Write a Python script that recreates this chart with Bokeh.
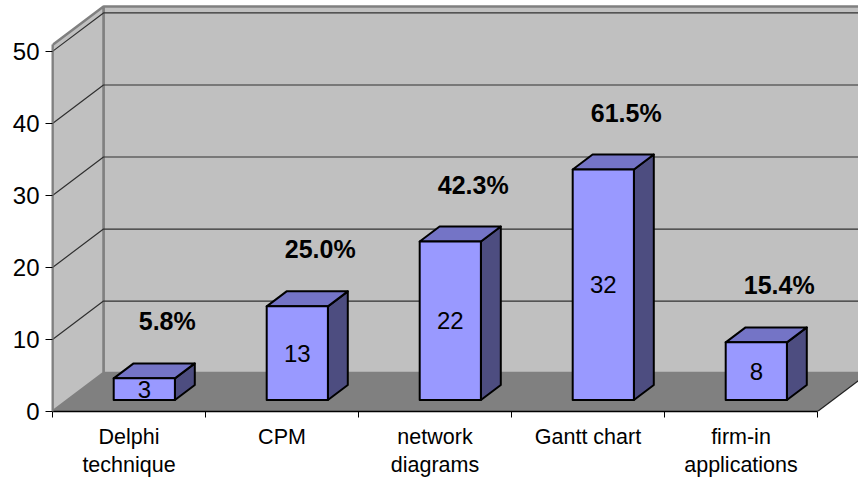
from bokeh.plotting import figure
from bokeh.models import Range1d, FixedTicker, LinearAxis
from bokeh.core.properties import value
from bokeh.embed import file_html
from bokeh.resources import INLINE

# ---- data ----
categories = ["Delphi\ntechnique", "CPM", "network\ndiagrams", "Gantt chart", "firm-in\napplications"]
counts = [3, 13, 22, 32, 8]
percent_labels = ["5.8%", "25.0%", "42.3%", "61.5%", "15.4%"]
y_ticks = [0, 10, 20, 30, 40, 50]

# ---- 3D geometry (style) ----
PX_PER_UNIT = 7.22
DX = 51 / 153.0          # depth shift in category units
DY = 38.5 / PX_PER_UNIT  # depth shift in value units
F0, F1 = 0.30, 0.69      # bar depth (front/back fraction)
HALF = 0.2               # half bar width in category units
WALL_TOP = 50.9
FONT = "Liberation Sans"

def proj(c, v, f):
    return c + f * DX, v + f * DY

p = figure(width=858, height=480, output_backend="svg", toolbar_location=None,
           x_range=Range1d(0, 806 / 153.0), y_range=Range1d(0, 412 / PX_PER_UNIT),
           min_border_left=52, min_border_right=0, min_border_top=0, min_border_bottom=68)
p.xgrid.visible = False
p.ygrid.visible = False
p.outline_line_color = None
p.background_fill_color = "white"
p.border_fill_color = "white"

# walls and floor
n = len(categories)
far = n + 1.0
bw = [proj(0, 0, 1), proj(far, 0, 1), proj(far, WALL_TOP, 1), proj(0, WALL_TOP, 1)]
lw = [proj(0, 0, 0), proj(0, 0, 1), proj(0, WALL_TOP, 1), proj(0, WALL_TOP, 0)]
fl = [proj(0, 0, 0), proj(n, 0, 0), proj(n, 0, 1), proj(0, 0, 1)]
p.patch([q[0] for q in bw], [q[1] for q in bw], fill_color="#C0C0C0", line_color="#808080", line_width=2.5)
p.patch([q[0] for q in lw], [q[1] for q in lw], fill_color="#C0C0C0", line_color="#808080", line_width=2.5)
p.patch([q[0] for q in fl], [q[1] for q in fl], fill_color="#808080", line_color=None)
e0, e1 = proj(n, 0, 0), proj(n, 0, 1)
p.line([e0[0], e1[0]], [e0[1], e1[1]], line_color="#202020", line_width=1.2)

# gridlines on walls
gxs, gys = [], []
for t in y_ticks[1:]:
    a, b, c = proj(0, t, 0), proj(0, t, 1), proj(far, t, 1)
    gxs.append([a[0], b[0], c[0]])
    gys.append([a[1], b[1], c[1]])
p.multi_line(gxs, gys, line_color="#303030", line_width=1.2)

# bars
fx, fy, tx, ty, sx, sy = [], [], [], [], [], []
for i, v in enumerate(counts):
    c0, c1 = i + 0.5 - HALF, i + 0.5 + HALF
    A = proj(c0, 0, F0); B = proj(c1, 0, F0); C = proj(c1, v, F0); D = proj(c0, v, F0)
    E = proj(c1, 0, F1); G = proj(c1, v, F1); H = proj(c0, v, F1)
    fx.append([A[0], B[0], C[0], D[0]]); fy.append([A[1], B[1], C[1], D[1]])
    tx.append([D[0], C[0], G[0], H[0]]); ty.append([D[1], C[1], G[1], H[1]])
    sx.append([B[0], E[0], G[0], C[0]]); sy.append([B[1], E[1], G[1], C[1]])
p.patches(sx, sy, fill_color="#4D4D80", line_color="black", line_width=2, line_join="round")
p.patches(tx, ty, fill_color="#7474C6", line_color="black", line_width=2, line_join="round")
p.patches(fx, fy, fill_color="#9999FF", line_color="black", line_width=2, line_join="round")

# value labels on the bar fronts
vx = [proj(i + 0.5, v / 2.0, F0)[0] for i, v in enumerate(counts)]
vy = [proj(i + 0.5, v / 2.0, F0)[1] for i, v in enumerate(counts)]
p.text(x=vx, y=vy, text=[str(v) for v in counts], text_font=value(FONT),
       text_font_size="24px", text_align="center", text_baseline="middle", text_color="black")

# percentage labels above the bars
px_ = [i + 0.5 + 0.25 for i in range(n)]
py_ = [v + 9.5 for v in counts]
p.text(x=px_, y=py_, text=percent_labels, text_font=value(FONT), text_font_style="bold",
       text_font_size="25px", text_align="center", text_baseline="middle", text_color="black")

# axes
p.yaxis.ticker = FixedTicker(ticks=y_ticks)
p.yaxis.bounds = (0, WALL_TOP)
p.yaxis.axis_line_color = "#808080"
p.yaxis.axis_line_width = 2
p.yaxis.major_tick_out = 7
p.yaxis.major_tick_in = 0
p.yaxis.major_tick_line_color = "black"
p.yaxis.minor_tick_line_color = None
p.yaxis.major_label_standoff = 6
p.yaxis.major_label_text_font = FONT
p.yaxis.major_label_text_font_size = "24px"
p.yaxis.major_label_text_color = "black"

# x axis: tick marks at category boundaries, names centred between them
tick_pos = [0, 1, 2, 3, 4, 5]
p.xaxis.ticker = FixedTicker(ticks=tick_pos, minor_ticks=[i + 0.5 for i in range(n)])
p.xaxis.bounds = (0, n)
p.xaxis.axis_line_color = "black"
p.xaxis.axis_line_width = 1.5
p.xaxis.major_tick_out = 6
p.xaxis.major_tick_in = 0
p.xaxis.major_tick_line_color = "black"
p.xaxis.minor_tick_line_color = None
p.xaxis.major_label_text_font_size = "1px"
p.xaxis.major_label_overrides = {t: "" for t in tick_pos}
p.xaxis[0].major_label_standoff = 0

# second (label-only) axis carrying the category names
cat_axis = LinearAxis(ticker=FixedTicker(ticks=[i + 0.5 for i in range(n)]))
cat_axis.major_label_overrides = {i + 0.5: categories[i] for i in range(n)}
cat_axis.axis_line_color = None
cat_axis.major_tick_line_color = None
cat_axis.minor_tick_line_color = None
cat_axis.major_label_text_font = FONT
cat_axis.major_label_text_font_size = "21.5px"
cat_axis.major_label_text_color = "black"
cat_axis.major_label_text_line_height = 1.2
cat_axis.major_label_standoff = 7
cat_axis.major_tick_out = 0
cat_axis.major_tick_in = 0
p.add_layout(cat_axis, "below")

open("out.html", "w").write(file_html(p, INLINE))
